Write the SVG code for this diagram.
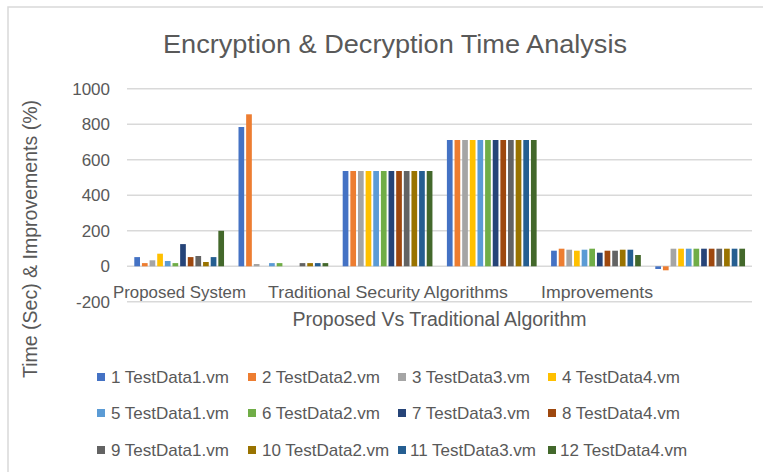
<svg xmlns="http://www.w3.org/2000/svg" width="763" height="472" viewBox="0 0 763 472">
  <style>
    text { font-family: "Liberation Sans", Arial, sans-serif; fill: #595959; }
    .grid { stroke: #d9d9d9; stroke-width: 1.5; }
    .tick { font-size: 17px; text-anchor: end; }
    .cat { font-size: 17px; text-anchor: middle; }
    .leg { font-size: 17px; }
    .s1 { fill: #4472C4; } .s2 { fill: #ED7D31; } .s3 { fill: #A5A5A5; } .s4 { fill: #FFC000; }
    .s5 { fill: #5B9BD5; } .s6 { fill: #70AD47; } .s7 { fill: #264478; } .s8 { fill: #9E480E; }
    .s9 { fill: #636363; } .s10 { fill: #997300; } .s11 { fill: #255E91; } .s12 { fill: #43682B; }
  </style>

  <!-- chart frame -->
  <rect x="0" y="0" width="763" height="472" fill="#ffffff"/>
  <rect id="chart-area" x="8" y="7" width="800" height="500" fill="#ffffff" stroke="#d9d9d9" stroke-width="1.5"/>

  <g id="title">
    <text x="395" y="53" font-size="26" text-anchor="middle" textLength="464" lengthAdjust="spacingAndGlyphs">Encryption &amp; Decryption Time Analysis</text>
  </g>

  <!-- value gridlines -->
  <g id="gridlines">
    <line class="grid" x1="127" y1="88.8" x2="752" y2="88.8"/>
    <line class="grid" x1="127" y1="124.3" x2="752" y2="124.3"/>
    <line class="grid" x1="127" y1="159.8" x2="752" y2="159.8"/>
    <line class="grid" x1="127" y1="195.3" x2="752" y2="195.3"/>
    <line class="grid" x1="127" y1="230.8" x2="752" y2="230.8"/>
    <line class="grid" x1="127" y1="266.3" x2="752" y2="266.3"/>
    <line class="grid" x1="127" y1="301.8" x2="752" y2="301.8"/>
  </g>

  <g id="value-axis">
    <text class="tick" x="110" y="94.5">1000</text>
    <text class="tick" x="110" y="130">800</text>
    <text class="tick" x="110" y="165.5">600</text>
    <text class="tick" x="110" y="201">400</text>
    <text class="tick" x="110" y="236.5">200</text>
    <text class="tick" x="110" y="272">0</text>
    <text class="tick" x="110" y="307.5">-200</text>
    <text x="37" y="239" font-size="19.5" text-anchor="middle" transform="rotate(-90 37 239)" textLength="278" lengthAdjust="spacingAndGlyphs">Time (Sec) &amp; Improvements (%)</text>
  </g>

  <!-- bars, one group per category -->
  <g id="bars">
    <g id="cat-1" transform="translate(134.3 0)">
      <rect class="s1" x="0" y="257.1" width="5.7" height="9.2"/>
      <rect class="s2" x="7.64" y="263.1" width="5.7" height="3.2"/>
      <rect class="s3" x="15.28" y="260.3" width="5.7" height="6"/>
      <rect class="s4" x="22.92" y="253.7" width="5.7" height="12.6"/>
      <rect class="s5" x="30.56" y="261" width="5.7" height="5.3"/>
      <rect class="s6" x="38.2" y="263.1" width="5.7" height="3.2"/>
      <rect class="s7" x="45.84" y="244.1" width="5.7" height="22.2"/>
      <rect class="s8" x="53.48" y="257.1" width="5.7" height="9.2"/>
      <rect class="s9" x="61.12" y="256" width="5.7" height="10.3"/>
      <rect class="s10" x="68.76" y="262" width="5.7" height="4.3"/>
      <rect class="s11" x="76.4" y="257.1" width="5.7" height="9.2"/>
      <rect class="s12" x="84.04" y="230.8" width="5.7" height="35.5"/>
    </g>
    <g id="cat-2" transform="translate(238.5 0)">
      <rect class="s1" x="0" y="127" width="5.7" height="139.3"/>
      <rect class="s2" x="7.64" y="114.3" width="5.7" height="152"/>
      <rect class="s3" x="15.28" y="264" width="5.7" height="2.3"/>
      <rect class="s5" x="30.56" y="263.1" width="5.7" height="3.2"/>
      <rect class="s6" x="38.2" y="263.1" width="5.7" height="3.2"/>
      <rect class="s9" x="61.12" y="263.1" width="5.7" height="3.2"/>
      <rect class="s10" x="68.76" y="263.1" width="5.7" height="3.2"/>
      <rect class="s11" x="76.4" y="263.1" width="5.7" height="3.2"/>
      <rect class="s12" x="84.04" y="263.1" width="5.7" height="3.2"/>
    </g>
    <g id="cat-3" transform="translate(342.7 0)">
      <rect class="s1" x="0" y="171" width="5.7" height="95.3"/>
      <rect class="s2" x="7.64" y="171" width="5.7" height="95.3"/>
      <rect class="s3" x="15.28" y="171" width="5.7" height="95.3"/>
      <rect class="s4" x="22.92" y="171" width="5.7" height="95.3"/>
      <rect class="s5" x="30.56" y="171" width="5.7" height="95.3"/>
      <rect class="s6" x="38.2" y="171" width="5.7" height="95.3"/>
      <rect class="s7" x="45.84" y="171" width="5.7" height="95.3"/>
      <rect class="s8" x="53.48" y="171" width="5.7" height="95.3"/>
      <rect class="s9" x="61.12" y="171" width="5.7" height="95.3"/>
      <rect class="s10" x="68.76" y="171" width="5.7" height="95.3"/>
      <rect class="s11" x="76.4" y="171" width="5.7" height="95.3"/>
      <rect class="s12" x="84.04" y="171" width="5.7" height="95.3"/>
    </g>
    <g id="cat-4" transform="translate(446.9 0)">
      <rect class="s1" x="0" y="140" width="5.7" height="126.3"/>
      <rect class="s2" x="7.64" y="140" width="5.7" height="126.3"/>
      <rect class="s3" x="15.28" y="140" width="5.7" height="126.3"/>
      <rect class="s4" x="22.92" y="140" width="5.7" height="126.3"/>
      <rect class="s5" x="30.56" y="140" width="5.7" height="126.3"/>
      <rect class="s6" x="38.2" y="140" width="5.7" height="126.3"/>
      <rect class="s7" x="45.84" y="140" width="5.7" height="126.3"/>
      <rect class="s8" x="53.48" y="140" width="5.7" height="126.3"/>
      <rect class="s9" x="61.12" y="140" width="5.7" height="126.3"/>
      <rect class="s10" x="68.76" y="140" width="5.7" height="126.3"/>
      <rect class="s11" x="76.4" y="140" width="5.7" height="126.3"/>
      <rect class="s12" x="84.04" y="140" width="5.7" height="126.3"/>
    </g>
    <g id="cat-5" transform="translate(551.1 0)">
      <rect class="s1" x="0" y="250.7" width="5.7" height="15.6"/>
      <rect class="s2" x="7.64" y="248.7" width="5.7" height="17.6"/>
      <rect class="s3" x="15.28" y="249.7" width="5.7" height="16.6"/>
      <rect class="s4" x="22.92" y="250.7" width="5.7" height="15.6"/>
      <rect class="s5" x="30.56" y="249.7" width="5.7" height="16.6"/>
      <rect class="s6" x="38.2" y="248.7" width="5.7" height="17.6"/>
      <rect class="s7" x="45.84" y="252.7" width="5.7" height="13.6"/>
      <rect class="s8" x="53.48" y="250.7" width="5.7" height="15.6"/>
      <rect class="s9" x="61.12" y="250.7" width="5.7" height="15.6"/>
      <rect class="s10" x="68.76" y="249.7" width="5.7" height="16.6"/>
      <rect class="s11" x="76.4" y="249.7" width="5.7" height="16.6"/>
      <rect class="s12" x="84.04" y="255" width="5.7" height="11.3"/>
    </g>
    <g id="cat-6" transform="translate(655.3 0)">
      <rect class="s1" x="0" y="266.3" width="5.7" height="2.7"/>
      <rect class="s2" x="7.64" y="266.3" width="5.7" height="4"/>
      <rect class="s3" x="15.28" y="248.7" width="5.7" height="17.6"/>
      <rect class="s4" x="22.92" y="248.7" width="5.7" height="17.6"/>
      <rect class="s5" x="30.56" y="248.7" width="5.7" height="17.6"/>
      <rect class="s6" x="38.2" y="248.7" width="5.7" height="17.6"/>
      <rect class="s7" x="45.84" y="248.7" width="5.7" height="17.6"/>
      <rect class="s8" x="53.48" y="248.7" width="5.7" height="17.6"/>
      <rect class="s9" x="61.12" y="248.7" width="5.7" height="17.6"/>
      <rect class="s10" x="68.76" y="248.7" width="5.7" height="17.6"/>
      <rect class="s11" x="76.4" y="248.7" width="5.7" height="17.6"/>
      <rect class="s12" x="84.04" y="248.7" width="5.7" height="17.6"/>
    </g>
  </g>

  <g id="category-axis">
    <text class="cat" x="179.5" y="297.5" textLength="133" lengthAdjust="spacingAndGlyphs">Proposed System</text>
    <text class="cat" x="388" y="297.5" textLength="240" lengthAdjust="spacingAndGlyphs">Traditional Security Algorithms</text>
    <text class="cat" x="597" y="297.5" textLength="112" lengthAdjust="spacingAndGlyphs">Improvements</text>
    <text x="439.5" y="326" font-size="19.5" text-anchor="middle" textLength="294" lengthAdjust="spacingAndGlyphs">Proposed Vs Traditional Algorithm</text>
  </g>

  <g id="legend">
    <rect class="s1" x="97" y="373" width="8" height="8"/><text class="leg" x="111" y="383">1 TestData1.vm</text>
    <rect class="s2" x="248" y="373" width="8" height="8"/><text class="leg" x="262" y="383">2 TestData2.vm</text>
    <rect class="s3" x="398" y="373" width="8" height="8"/><text class="leg" x="412" y="383">3 TestData3.vm</text>
    <rect class="s4" x="548" y="373" width="8" height="8"/><text class="leg" x="562" y="383">4 TestData4.vm</text>

    <rect class="s5" x="97" y="409" width="8" height="8"/><text class="leg" x="111" y="419">5 TestData1.vm</text>
    <rect class="s6" x="248" y="409" width="8" height="8"/><text class="leg" x="262" y="419">6 TestData2.vm</text>
    <rect class="s7" x="398" y="409" width="8" height="8"/><text class="leg" x="412" y="419">7 TestData3.vm</text>
    <rect class="s8" x="548" y="409" width="8" height="8"/><text class="leg" x="562" y="419">8 TestData4.vm</text>

    <rect class="s9" x="97" y="446" width="8" height="8"/><text class="leg" x="111" y="456">9 TestData1.vm</text>
    <rect class="s10" x="248" y="446" width="8" height="8"/><text class="leg" x="262" y="456">10 TestData2.vm</text>
    <rect class="s11" x="398" y="446" width="8" height="8"/><text class="leg" x="410" y="456">11 TestData3.vm</text>
    <rect class="s12" x="548" y="446" width="8" height="8"/><text class="leg" x="560" y="456">12 TestData4.vm</text>
  </g>
</svg>
